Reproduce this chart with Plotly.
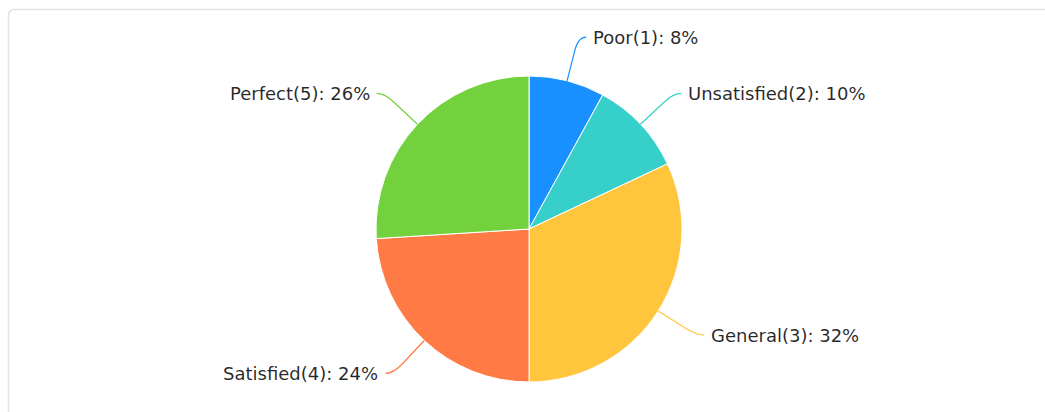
import math
import plotly.graph_objects as go

# Satisfaction survey shares
labels = ["Poor(1)", "Unsatisfied(2)", "General(3)", "Satisfied(4)", "Perfect(5)"]
values = [8, 10, 32, 24, 26]
colors = ["#1890FF", "#36CFC9", "#FFC53D", "#FF7A45", "#73D13D"]

W, H = 1045, 412
CX, CY, R = 529, 229, 153      # pie centre and radius in pixels
LEAD = 45                      # radial length of the leader line
TAIL = 8                       # horizontal tail of the leader line
GAP = 5                        # space between tail and label text


def px_to_paper(x, y):
    return x / W, 1 - y / H


fig = go.Figure()
fig.add_trace(go.Pie(
    labels=labels,
    values=values,
    sort=False,
    direction="clockwise",
    rotation=0,
    marker=dict(colors=colors, line=dict(color="white", width=1)),
    textinfo="none",
    hoverinfo="label+percent",
    showlegend=False,
    domain=dict(x=[(CX - R) / W, (CX + R) / W],
                y=[1 - (CY + R) / H, 1 - (CY - R) / H]),
))

shapes = []
annotations = []
total = sum(values)
cum = 0
for lab, val, col in zip(labels, values, colors):
    mid = (cum + val / 2) / total * 2 * math.pi
    cum += val
    sx, sy = math.sin(mid), -math.cos(mid)
    x0, y0 = CX + R * sx, CY + R * sy
    x1, y1 = CX + (R + LEAD) * sx, CY + (R + LEAD) * sy
    side = 1 if sx >= 0 else -1
    x2, y2 = x1 + side * TAIL, y1
    # leader line: radial segment bending into a short horizontal tail
    xa, ya = x0 + (x1 - x0) * 0.7, y0 + (y1 - y0) * 0.7
    p = [px_to_paper(*pt) for pt in [(x0, y0), (xa, ya), (x1, y1), (x2, y2)]]
    path = (f"M {p[0][0]},{p[0][1]} L {p[1][0]},{p[1][1]} "
            f"Q {p[2][0]},{p[2][1]} {p[3][0]},{p[3][1]}")
    shapes.append(dict(type="path", xref="paper", yref="paper", path=path,
                       line=dict(color=col, width=1.2)))
    tx, ty = px_to_paper(x2 + side * GAP, y2)
    annotations.append(dict(
        x=tx, y=ty, xref="paper", yref="paper",
        text=f"{lab}: {round(val / total * 100)}%",
        showarrow=False, xanchor="left" if side > 0 else "right", yanchor="middle",
        font=dict(family="DejaVu Sans", size=18, color="rgba(0,0,0,0.85)"),
    ))

# card frame with rounded top corners running off the bottom and right edges
fx0, fy0 = px_to_paper(8.5, 9.5)
fx1, fy1 = px_to_paper(1046, 420)
rx, ry = 6 / W, 6 / H
card = (f"M {fx0},{fy1} L {fx0},{fy0 - ry} Q {fx0},{fy0} {fx0 + rx},{fy0} "
        f"L {fx1},{fy0}")
shapes.insert(0, dict(type="path", xref="paper", yref="paper", path=card,
                      line=dict(color="#E3E3E3", width=1.5), layer="below"))

fig.update_layout(
    width=W, height=H,
    margin=dict(l=0, r=0, t=0, b=0),
    paper_bgcolor="white",
    plot_bgcolor="white",
    shapes=shapes,
    annotations=annotations,
    font=dict(family="DejaVu Sans"),
)

fig.write_html("out.html")
